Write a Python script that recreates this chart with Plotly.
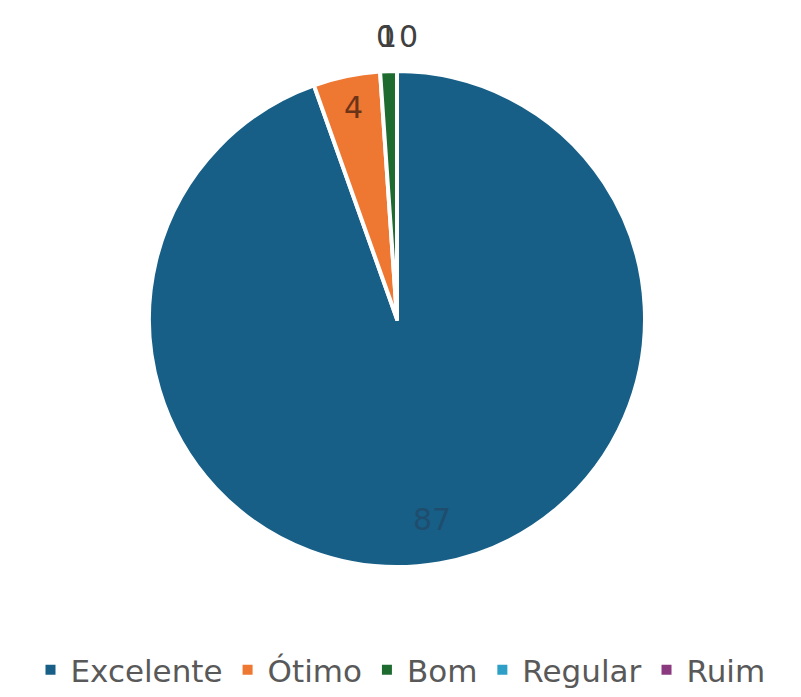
import math
import plotly.graph_objects as go

# Survey answers and their counts
categories = ["Excelente", "Ótimo", "Bom", "Regular", "Ruim"]
counts = [87, 4, 1, 0, 0]
slice_colors = ["#175F87", "#EE7732", "#1E6B30", "#2E9FC7", "#8B3A7F"]
label_colors = ["#1F4D6E", "#6B3418", "#404040", "#404040", "#404040"]

W, H = 801, 697
# Pie placement (pixels): centre and radius
CX, CY, R = 397, 319, 248
FONT = "DejaVu Sans, Verdana, sans-serif"

fig = go.Figure(
    go.Pie(
        labels=categories,
        values=counts,
        sort=False,
        direction="clockwise",
        rotation=0,
        textinfo="none",
        hoverinfo="label+value",
        marker=dict(colors=slice_colors, line=dict(color="white", width=4)),
        domain=dict(x=[(CX - R) / W, (CX + R) / W],
                    y=[1 - (CY + R) / H, 1 - (CY - R) / H]),
    )
)

# Value labels placed along each slice's mid-angle; small slices get
# their label just outside the rim, stacked side by side when they coincide
total = sum(counts)
annotations = []
cum = 0
seen = {}
for name, v, col in zip(categories, counts, label_colors):
    mid = (cum + v / 2) / total * 2 * math.pi
    cum += v
    share = v / total
    if share > 0.5:
        rr = 0.82 * R
    elif share > 0.03:
        rr = 0.87 * R
    else:
        rr = 1.14 * R
    px = CX + rr * math.sin(mid)
    py = CY - rr * math.cos(mid)
    key = (round(px), round(py))
    n = seen.get(key, 0)
    seen[key] = n + 1
    anchor = "center"
    if share <= 0.03 and v == 0:
        anchor = "right" if n == 0 else "left"
    annotations.append(dict(
        x=px / W, y=1 - py / H, xref="paper", yref="paper",
        text=str(v), showarrow=False, xanchor=anchor, yanchor="middle",
        font=dict(family=FONT, size=30, color=col),
    ))

fig.update_layout(
    width=W, height=H, autosize=False,
    margin=dict(l=0, r=0, t=0, b=0),
    paper_bgcolor="white", plot_bgcolor="white",
    annotations=annotations,
    showlegend=True,
    legend=dict(
        orientation="h", x=0.5, xanchor="center", y=1 - 670 / H, yanchor="middle",
        font=dict(family=FONT, size=31, color="#595959"),
        itemsizing="constant", traceorder="normal",
    ),
)

fig.write_html("out.html")
